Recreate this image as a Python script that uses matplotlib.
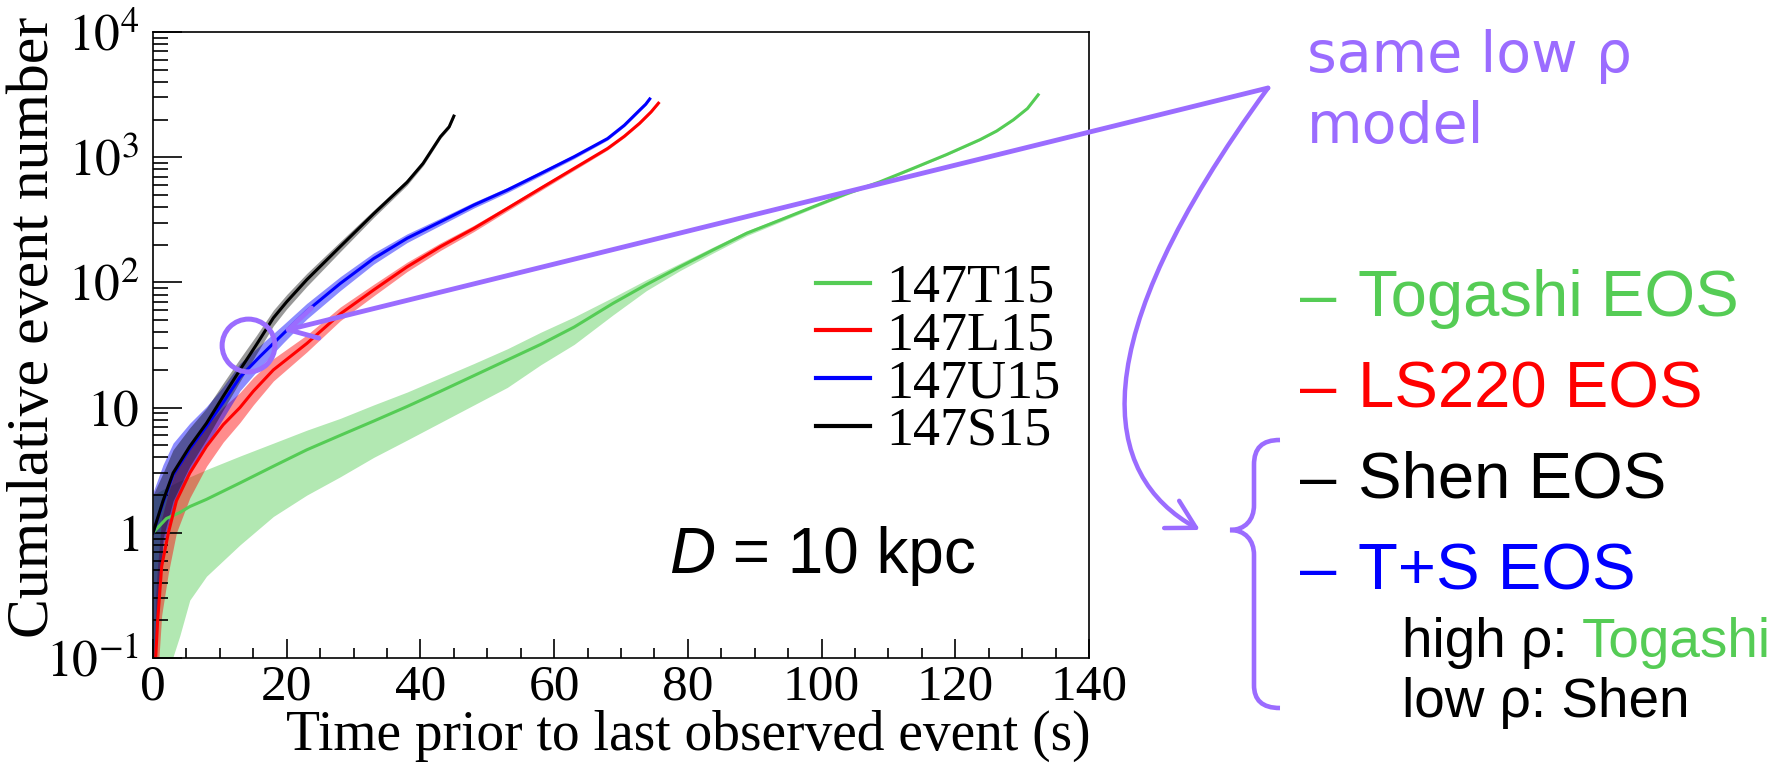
import numpy as np
import matplotlib
matplotlib.use('Agg')
import matplotlib.pyplot as plt
from matplotlib.path import Path
from matplotlib.patches import FancyArrowPatch, PathPatch
from matplotlib.ticker import MultipleLocator, LogLocator, NullFormatter

plt.rcParams['font.family'] = ['Liberation Serif', 'DejaVu Serif']
plt.rcParams['mathtext.fontset'] = 'stix'

# 147T15 (Togashi EOS)
t_T = [0, 2, 4, 5.5, 8, 13, 18, 23, 28, 33, 38, 43, 48, 53, 58, 63, 68.8, 73.8, 78.8,
       83.8, 88.8, 93.8, 98.8, 103.7, 108.7, 113.7, 118.7, 123.7, 126.2, 128.7, 130.8, 132.4]
n_T = [1.0, 1.3, 1.45, 1.62, 1.85, 2.5, 3.4, 4.6, 6.0, 7.8, 10.2, 13.5, 18, 24, 32, 44, 68, 96, 133,
       182, 247, 315, 403, 510, 635, 815, 1050, 1380, 1620, 1990, 2450, 3150]
lo_T = [0.02, 0.07, 0.15, 0.29, 0.45, 0.8, 1.35, 2.0, 2.8, 4.0, 5.5, 7.6, 10.5, 14.5, 22, 32, 55, 86, 124,
        172, 236, 304, 392, 498, 622, 800, 1033, 1360, 1598, 1965, 2422, 3110]
hi_T = [2.0, 2.3, 2.6, 2.8, 3.2, 4.1, 5.2, 6.6, 8.2, 10.5, 13.3, 17.3, 22.5, 29.5, 40, 53, 76, 105, 142,
        192, 258, 327, 415, 522, 648, 830, 1068, 1400, 1642, 2015, 2478, 3185]

# 147L15 (LS220 EOS)
t_L = [0.4, 0.7, 1.3, 2.3, 3.5, 5.5, 8, 10.5, 13, 15, 18, 23, 28, 33, 38, 43, 48, 53, 58, 63, 68,
       70.5, 72.8, 74.5, 75.6]
n_L = [0.1, 0.2, 0.54, 1.0, 1.8, 3.0, 4.9, 7.3, 10, 13.5, 20, 32.5, 56, 87, 133, 193, 270, 390, 565, 815,
       1175, 1470, 1870, 2300, 2700]
lo_L = [0.03, 0.07, 0.22, 0.48, 1.0, 1.9, 3.4, 5.3, 7.6, 10.5, 16.3, 27.8, 49.4, 78, 122, 180, 255, 372, 542,
        787, 1143, 1435, 1828, 2255, 2650]
hi_L = [0.32, 0.56, 1.3, 2.1, 3.3, 4.8, 7.1, 10.1, 13.2, 17.4, 24.6, 38, 63.5, 96.5, 145, 207, 286, 409, 589,
        844, 1208, 1505, 1913, 2345, 2755]

# 147U15 (T+S EOS)
t_U = [0, 1.5, 3, 5.5, 8, 10.5, 13, 16, 19.5, 23, 28, 33, 38, 43, 48, 53, 58, 63, 68, 70.5, 72.8,
       73.7, 74.3]
n_U = [1.0, 1.75, 2.9, 4.7, 7.1, 11, 17.5, 25.6, 39, 59, 98, 155, 225, 305, 415, 547, 742, 1010, 1410,
       1800, 2380, 2650, 2920]
lo_U = [0.05, 0.8, 1.6, 3.0, 5.0, 8.2, 13.6, 20.9, 33, 51, 86, 140, 208, 286, 393, 522, 712, 975, 1370,
        1755, 2325, 2595, 2865]
hi_U = [2.1, 3.5, 5.2, 7.5, 10.2, 14.7, 22.5, 31.4, 46, 68, 111, 172, 244, 326, 438, 573, 773, 1046, 1450,
        1845, 2435, 2705, 2975]

# 147S15 (Shen EOS)
t_S = [0, 1.5, 3, 5.5, 8, 10.5, 13, 15.5, 18, 20, 23, 28, 33, 38, 40.4, 43, 44.3, 45]
n_S = [1.0, 1.8, 3.0, 4.9, 7.5, 12.3, 20, 32, 52, 70, 105, 193, 353, 631, 893, 1460, 1750, 2130]
lo_S = [0.05, 0.9, 1.8, 3.4, 5.6, 9.6, 16.2, 27, 45, 61.5, 93, 176, 330, 598, 855, 1408, 1695, 2060]
hi_S = [2.0, 3.0, 4.6, 6.9, 9.9, 15.7, 24.6, 38, 60, 80, 118, 212, 378, 666, 933, 1515, 1805, 2200]

x_ticks = [0, 20, 40, 60, 80, 100, 120, 140]
y_ticks = [0.1, 1, 10, 100, 1000, 10000]
y_ticklabels = [r'$10^{-1}$', r'$1$', r'$10$', r'$10^{2}$', r'$10^{3}$', r'$10^{4}$']

green = '#55cc55'
red = '#ff0000'
blue = '#0000ff'
purple = '#9b6cff'

W, H = 1779, 764
fig = plt.figure(figsize=(W / 100, H / 100), dpi=100)
ax = fig.add_axes([153 / W, 106 / H, 936 / W, 626 / H])

series = [
    (t_T, n_T, lo_T, hi_T, green, '147T15', 0.45),
    (t_L, n_L, lo_L, hi_L, red, '147L15', 0.45),
    (t_U, n_U, lo_U, hi_U, blue, '147U15', 0.45),
    (t_S, n_S, lo_S, hi_S, 'black', '147S15', 0.4),
]
handles = []
for t, n, lo, hi, c, lab, a in series:
    ax.fill_between(t, lo, hi, color=c, alpha=a, lw=0)
    h, = ax.plot(t, n, color=c, lw=2.2, label=lab)
    handles.append(h)

ax.set_yscale('log')
ax.set_xlim(0, 140)
ax.set_ylim(0.1, 1e4)
ax.set_xticks(x_ticks)
ax.xaxis.set_minor_locator(MultipleLocator(5))
ax.set_yticks(y_ticks)
ax.set_yticklabels(y_ticklabels)
ax.yaxis.set_minor_locator(LogLocator(base=10, subs=np.arange(2, 10)))
ax.yaxis.set_minor_formatter(NullFormatter())
ax.tick_params(axis='both', which='both', direction='in', top=False, right=False, width=1.2)
ax.tick_params(axis='y', which='major', length=21, pad=10, labelsize=37)
ax.tick_params(axis='y', which='minor', length=11)
ax.tick_params(axis='x', which='major', length=14, pad=4, labelsize=37)
ax.tick_params(axis='x', which='minor', length=7)
for s in ax.spines.values():
    s.set_linewidth(1.2)

ax.set_xlabel('Time prior to last observed event (s)', fontsize=40, loc='right')
ax.xaxis.set_label_coords(1.002, -0.082)
ax.set_ylabel('Cumulative event number', fontsize=43, loc='top')
ax.yaxis.set_label_coords(-0.098, 1.024)

leg = ax.legend(handles=handles, loc='upper left', bbox_to_anchor=(0.708, 0.631), frameon=False,
                fontsize=39, handlelength=1.0, handletextpad=0.3, labelspacing=-0.05,
                borderpad=0, borderaxespad=0)
for ln in leg.get_lines():
    ln.set_linewidth(3)

# D = 10 kpc
tD = ax.text(0.551, 0.136, 'D', transform=ax.transAxes, fontsize=46, style='italic',
             family='Liberation Sans', va='baseline')
ax.annotate(' = 10 kpc', xy=(1, 0), xycoords=tD, va='bottom', fontsize=46, family='Liberation Sans')

# annotation layer in pixel coordinates (y downward)
ov = fig.add_axes([0, 0, 1, 1], zorder=5)
ov.set_xlim(0, W)
ov.set_ylim(H, 0)
ov.axis('off')
ov.patch.set_alpha(0)

apex = (1268, 88)

# circle + straight arrow
ax.plot([14.25], [31.6], marker='o', ms=38, mfc='none', mec=purple, mew=3.6, clip_on=False, zorder=6)
ax.annotate('', xy=(19.5, 41), xycoords='data', xytext=apex, textcoords=ov.transData,
            arrowprops=dict(arrowstyle='->,head_length=0.5,head_width=0.28', color=purple, lw=3.5,
                            shrinkA=0, shrinkB=0, mutation_scale=40),
            annotation_clip=False, zorder=6)

# curved arrow to brace
curve = Path([apex, (1080, 345), (1100, 475), (1200, 530)],
             [Path.MOVETO, Path.CURVE4, Path.CURVE4, Path.CURVE4])
ov.add_patch(FancyArrowPatch(path=curve, arrowstyle='->,head_length=0.5,head_width=0.28',
                             mutation_scale=40, color=purple, lw=3.2))

# curly brace
brace = Path([(1280, 440), (1262, 440), (1254, 448), (1254, 465),
              (1254, 505),
              (1254, 520), (1245, 530), (1230, 530),
              (1245, 530), (1254, 540), (1254, 555),
              (1254, 685),
              (1254, 700), (1262, 708), (1280, 708)],
             [Path.MOVETO, Path.CURVE4, Path.CURVE4, Path.CURVE4,
              Path.LINETO,
              Path.CURVE4, Path.CURVE4, Path.CURVE4,
              Path.CURVE4, Path.CURVE4, Path.CURVE4,
              Path.LINETO,
              Path.CURVE4, Path.CURVE4, Path.CURVE4])
ov.add_patch(PathPatch(brace, fill=False, ec=purple, lw=3.3))

ov.text(1307, 72, 'same low ρ', color=purple, fontsize=41, family='DejaVu Sans', va='baseline')
ov.text(1307, 143, 'model', color=purple, fontsize=41, family='DejaVu Sans', va='baseline')

rows = [('Togashi EOS', green, 316), ('LS220 EOS', red, 407), ('Shen EOS', 'black', 498), ('T+S EOS', blue, 589)]
for txt, c, yb in rows:
    ov.text(1300, yb, '–', color=c, fontsize=47, family='Liberation Sans', va='baseline')
    ov.text(1358, yb, txt, color=c, fontsize=47, family='Liberation Sans', va='baseline')

t1 = ov.text(1402, 657, 'high ρ:', fontsize=39.5, family='Liberation Sans', va='baseline')
ov.annotate('Togashi', xy=(1, 0), xycoords=t1, xytext=(10, 0), textcoords='offset points',
            va='bottom', fontsize=39.5, family='Liberation Sans', color=green)
ov.text(1402, 717, 'low ρ: Shen', fontsize=39.5, family='Liberation Sans', va='baseline')

fig.savefig('out.png', dpi=100)
